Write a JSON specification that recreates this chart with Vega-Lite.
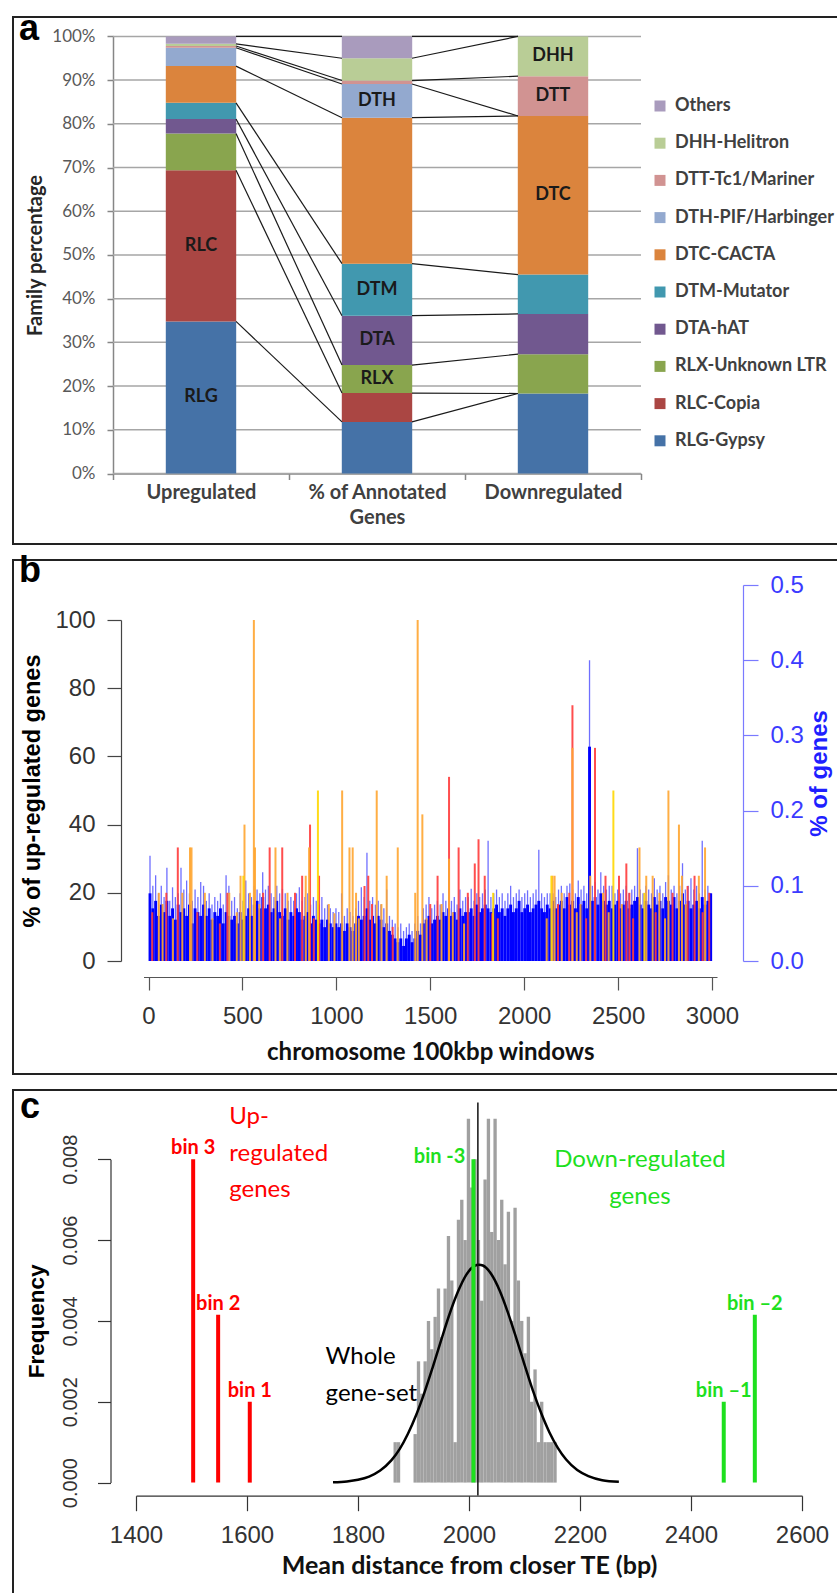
{
"$schema": "https://vega.github.io/schema/vega-lite/v6.json",
"padding": {"left": 12, "top": 10, "right": 0, "bottom": 0},
"background": "white",
"spacing": 16,
"bounds": "flush",
"resolve": {"scale": {"color": "independent"}, "legend": {"color": "independent"}},
"config": {
  "view": {"stroke": "#222222", "strokeWidth": 2},
  "axis": {"grid": false},
  "title": {"anchor": "start", "frame": "group", "font": "Liberation Sans", "fontSize": 36, "fontWeight": "bold", "color": "#000000", "baseline": "alphabetic"}
},
"datasets": {
  "famA": [
    {"group": "Upregulated", "family": "RLG-Gypsy", "abbr": "RLG", "k": 1, "pct": 34.8},
    {"group": "Upregulated", "family": "RLC-Copia", "abbr": "RLC", "k": 2, "pct": 34.6},
    {"group": "Upregulated", "family": "RLX-Unknown LTR", "abbr": "", "k": 3, "pct": 8.4},
    {"group": "Upregulated", "family": "DTA-hAT", "abbr": "", "k": 4, "pct": 3.3},
    {"group": "Upregulated", "family": "DTM-Mutator", "abbr": "", "k": 5, "pct": 3.7},
    {"group": "Upregulated", "family": "DTC-CACTA", "abbr": "", "k": 6, "pct": 8.4},
    {"group": "Upregulated", "family": "DTH-PIF/Harbinger", "abbr": "", "k": 7, "pct": 4.2},
    {"group": "Upregulated", "family": "DTT-Tc1/Mariner", "abbr": "", "k": 8, "pct": 0.4},
    {"group": "Upregulated", "family": "DHH-Helitron", "abbr": "", "k": 9, "pct": 0.5},
    {"group": "Upregulated", "family": "Others", "abbr": "", "k": 10, "pct": 1.7},
    {"group": "% of Annotated Genes", "family": "RLG-Gypsy", "abbr": "", "k": 1, "pct": 11.8},
    {"group": "% of Annotated Genes", "family": "RLC-Copia", "abbr": "", "k": 2, "pct": 6.6},
    {"group": "% of Annotated Genes", "family": "RLX-Unknown LTR", "abbr": "RLX", "k": 3, "pct": 6.4},
    {"group": "% of Annotated Genes", "family": "DTA-hAT", "abbr": "DTA", "k": 4, "pct": 11.3},
    {"group": "% of Annotated Genes", "family": "DTM-Mutator", "abbr": "DTM", "k": 5, "pct": 11.9},
    {"group": "% of Annotated Genes", "family": "DTC-CACTA", "abbr": "", "k": 6, "pct": 33.4},
    {"group": "% of Annotated Genes", "family": "DTH-PIF/Harbinger", "abbr": "DTH", "k": 7, "pct": 7.7},
    {"group": "% of Annotated Genes", "family": "DTT-Tc1/Mariner", "abbr": "", "k": 8, "pct": 0.8},
    {"group": "% of Annotated Genes", "family": "DHH-Helitron", "abbr": "", "k": 9, "pct": 5.1},
    {"group": "% of Annotated Genes", "family": "Others", "abbr": "", "k": 10, "pct": 5.0},
    {"group": "Downregulated", "family": "RLG-Gypsy", "abbr": "", "k": 1, "pct": 18.3},
    {"group": "Downregulated", "family": "RLC-Copia", "abbr": "", "k": 2, "pct": 0},
    {"group": "Downregulated", "family": "RLX-Unknown LTR", "abbr": "", "k": 3, "pct": 9.0},
    {"group": "Downregulated", "family": "DTA-hAT", "abbr": "", "k": 4, "pct": 9.2},
    {"group": "Downregulated", "family": "DTM-Mutator", "abbr": "", "k": 5, "pct": 9.0},
    {"group": "Downregulated", "family": "DTC-CACTA", "abbr": "DTC", "k": 6, "pct": 36.3},
    {"group": "Downregulated", "family": "DTH-PIF/Harbinger", "abbr": "", "k": 7, "pct": 0},
    {"group": "Downregulated", "family": "DTT-Tc1/Mariner", "abbr": "DTT", "k": 8, "pct": 9.1},
    {"group": "Downregulated", "family": "DHH-Helitron", "abbr": "DHH", "k": 9, "pct": 9.1},
    {"group": "Downregulated", "family": "Others", "abbr": "", "k": 10, "pct": 0}
  ],
  "gridA": [{"v": 0}, {"v": 10}, {"v": 20}, {"v": 30}, {"v": 40}, {"v": 50}, {"v": 60}, {"v": 70}, {"v": 80}, {"v": 90}, {"v": 100}],
  "blueB": [
    {"w":8,"lo":0.09,"hi":0.14},{"w":23,"lo":0.07,"hi":0.1},{"w":38,"lo":0.08,"hi":0.114},{"w":53,"lo":0.06,"hi":0.09},{"w":68,"lo":0.075,"hi":0.1},{"w":83,"lo":0.065,"hi":0.085},{"w":98,"lo":0.08,"hi":0.124},
    {"w":113,"lo":0.06,"hi":0.08},{"w":128,"lo":0.07,"hi":0.098},{"w":143,"lo":0.055,"hi":0.085},{"w":158,"lo":0.075,"hi":0.09},{"w":173,"lo":0.065,"hi":0.124},{"w":188,"lo":0.07,"hi":0.095},{"w":203,"lo":0.06,"hi":0.107},{"w":218,"lo":0.075,"hi":0.09},{"w":233,"lo":0.05,"hi":0.08},{"w":248,"lo":0.07,"hi":0.095},{"w":263,"lo":0.065,"hi":0.085},{"w":278,"lo":0.06,"hi":0.105},{"w":293,"lo":0.075,"hi":0.1},
    {"w":308,"lo":0.06,"hi":0.08},{"w":323,"lo":0.07,"hi":0.09},{"w":338,"lo":0.055,"hi":0.075},{"w":353,"lo":0.065,"hi":0.085},{"w":368,"lo":0.06,"hi":0.08},{"w":383,"lo":0.07,"hi":0.09},{"w":398,"lo":0.05,"hi":0.075},{"w":413,"lo":0.065,"hi":0.114},{"w":428,"lo":0.06,"hi":0.1},{"w":443,"lo":0.055,"hi":0.08},
    {"w":458,"lo":0.06,"hi":0.085},{"w":473,"lo":0.05,"hi":0.07},{"w":488,"lo":0.065,"hi":0.09},{"w":503,"lo":0.055,"hi":0.08},{"w":518,"lo":0.06,"hi":0.107},{"w":533,"lo":0.07,"hi":0.09},{"w":548,"lo":0.06,"hi":0.085},
    {"w":563,"lo":0.075,"hi":0.1},{"w":578,"lo":0.08,"hi":0.095},{"w":593,"lo":0.07,"hi":0.09},{"w":608,"lo":0.085,"hi":0.118},{"w":623,"lo":0.07,"hi":0.095},{"w":638,"lo":0.075,"hi":0.1},{"w":653,"lo":0.065,"hi":0.09},{"w":668,"lo":0.07,"hi":0.085},{"w":683,"lo":0.08,"hi":0.1},{"w":698,"lo":0.065,"hi":0.09},
    {"w":713,"lo":0.06,"hi":0.096},{"w":728,"lo":0.07,"hi":0.09},{"w":743,"lo":0.055,"hi":0.08},{"w":758,"lo":0.065,"hi":0.085},{"w":773,"lo":0.06,"hi":0.08},{"w":788,"lo":0.07,"hi":0.09},{"w":803,"lo":0.065,"hi":0.098},{"w":818,"lo":0.055,"hi":0.08},{"w":833,"lo":0.06,"hi":0.085},{"w":848,"lo":0.065,"hi":0.09},{"w":863,"lo":0.05,"hi":0.075},{"w":878,"lo":0.06,"hi":0.085},{"w":893,"lo":0.055,"hi":0.08},
    {"w":908,"lo":0.05,"hi":0.075},{"w":923,"lo":0.055,"hi":0.085},{"w":938,"lo":0.045,"hi":0.07},{"w":953,"lo":0.055,"hi":0.075},{"w":968,"lo":0.05,"hi":0.07},{"w":983,"lo":0.045,"hi":0.065},{"w":998,"lo":0.05,"hi":0.07},
    {"w":1013,"lo":0.045,"hi":0.065},{"w":1028,"lo":0.05,"hi":0.09},{"w":1043,"lo":0.04,"hi":0.06},{"w":1058,"lo":0.05,"hi":0.07},{"w":1073,"lo":0.045,"hi":0.065},{"w":1088,"lo":0.04,"hi":0.06},
    {"w":1103,"lo":0.05,"hi":0.07},{"w":1118,"lo":0.06,"hi":0.08},{"w":1133,"lo":0.055,"hi":0.098},{"w":1148,"lo":0.06,"hi":0.085},{"w":1163,"lo":0.07,"hi":0.144},{"w":1178,"lo":0.055,"hi":0.08},{"w":1193,"lo":0.06,"hi":0.085},{"w":1208,"lo":0.05,"hi":0.075},{"w":1223,"lo":0.06,"hi":0.08},{"w":1238,"lo":0.055,"hi":0.075},
    {"w":1253,"lo":0.045,"hi":0.07},{"w":1268,"lo":0.05,"hi":0.095},{"w":1283,"lo":0.04,"hi":0.06},{"w":1298,"lo":0.035,"hi":0.055},
    {"w":1313,"lo":0.03,"hi":0.05},{"w":1328,"lo":0.025,"hi":0.045},{"w":1343,"lo":0.03,"hi":0.05},{"w":1358,"lo":0.02,"hi":0.04},{"w":1373,"lo":0.03,"hi":0.045},{"w":1388,"lo":0.035,"hi":0.05},{"w":1403,"lo":0.025,"hi":0.04},{"w":1418,"lo":0.03,"hi":0.05},{"w":1433,"lo":0.04,"hi":0.06},{"w":1448,"lo":0.035,"hi":0.05},
    {"w":1463,"lo":0.05,"hi":0.07},{"w":1478,"lo":0.055,"hi":0.075},{"w":1493,"lo":0.06,"hi":0.085},{"w":1508,"lo":0.05,"hi":0.07},{"w":1523,"lo":0.055,"hi":0.075},{"w":1538,"lo":0.06,"hi":0.08},
    {"w":1553,"lo":0.055,"hi":0.075},{"w":1568,"lo":0.065,"hi":0.09},{"w":1583,"lo":0.06,"hi":0.08},{"w":1598,"lo":0.07,"hi":0.085},{"w":1613,"lo":0.06,"hi":0.08},{"w":1628,"lo":0.065,"hi":0.085},{"w":1643,"lo":0.055,"hi":0.075},{"w":1658,"lo":0.07,"hi":0.095},{"w":1673,"lo":0.06,"hi":0.08},{"w":1688,"lo":0.065,"hi":0.085},
    {"w":1703,"lo":0.065,"hi":0.085},{"w":1718,"lo":0.07,"hi":0.096},{"w":1733,"lo":0.06,"hi":0.08},{"w":1748,"lo":0.075,"hi":0.09},{"w":1763,"lo":0.065,"hi":0.085},{"w":1778,"lo":0.07,"hi":0.09},{"w":1793,"lo":0.075,"hi":0.095},{"w":1808,"lo":0.07,"hi":0.16},{"w":1823,"lo":0.065,"hi":0.085},{"w":1838,"lo":0.07,"hi":0.09},{"w":1853,"lo":0.075,"hi":0.095},{"w":1868,"lo":0.065,"hi":0.085},{"w":1883,"lo":0.07,"hi":0.09},{"w":1898,"lo":0.06,"hi":0.08},
    {"w":1913,"lo":0.07,"hi":0.09},{"w":1928,"lo":0.075,"hi":0.1},{"w":1943,"lo":0.065,"hi":0.085},{"w":1958,"lo":0.07,"hi":0.09},{"w":1973,"lo":0.08,"hi":0.095},{"w":1988,"lo":0.065,"hi":0.085},{"w":2003,"lo":0.07,"hi":0.09},{"w":2018,"lo":0.075,"hi":0.094},{"w":2033,"lo":0.065,"hi":0.085},{"w":2048,"lo":0.07,"hi":0.09},{"w":2063,"lo":0.075,"hi":0.095},{"w":2078,"lo":0.08,"hi":0.148},{"w":2093,"lo":0.07,"hi":0.09},
    {"w":2108,"lo":0.065,"hi":0.085},{"w":2123,"lo":0.075,"hi":0.09},{"w":2138,"lo":0.07,"hi":0.09},{"w":2153,"lo":0.08,"hi":0.09},{"w":2168,"lo":0.07,"hi":0.085},{"w":2183,"lo":0.075,"hi":0.095},{"w":2198,"lo":0.08,"hi":0.1},{"w":2213,"lo":0.07,"hi":0.09},{"w":2228,"lo":0.085,"hi":0.1},{"w":2243,"lo":0.075,"hi":0.103},{"w":2258,"lo":0.08,"hi":0.095},{"w":2273,"lo":0.07,"hi":0.09},{"w":2288,"lo":0.085,"hi":0.107},
    {"w":2303,"lo":0.075,"hi":0.095},{"w":2318,"lo":0.08,"hi":0.1},{"w":2333,"lo":0.07,"hi":0.09},{"w":2348,"lo":0.285,"hi":0.4},{"w":2363,"lo":0.08,"hi":0.1},{"w":2378,"lo":0.085,"hi":0.105},{"w":2393,"lo":0.075,"hi":0.095},{"w":2408,"lo":0.09,"hi":0.118},{"w":2423,"lo":0.08,"hi":0.1},{"w":2438,"lo":0.075,"hi":0.095},
    {"w":2453,"lo":0.08,"hi":0.1},{"w":2468,"lo":0.07,"hi":0.1},{"w":2483,"lo":0.075,"hi":0.09},{"w":2498,"lo":0.08,"hi":0.095},{"w":2513,"lo":0.07,"hi":0.09},{"w":2528,"lo":0.075,"hi":0.095},{"w":2543,"lo":0.08,"hi":0.1},{"w":2558,"lo":0.07,"hi":0.09},{"w":2573,"lo":0.075,"hi":0.095},{"w":2588,"lo":0.08,"hi":0.1},{"w":2603,"lo":0.085,"hi":0.15},{"w":2618,"lo":0.075,"hi":0.095},{"w":2633,"lo":0.07,"hi":0.09},{"w":2648,"lo":0.08,"hi":0.1},{"w":2663,"lo":0.075,"hi":0.095},{"w":2678,"lo":0.07,"hi":0.09},{"w":2693,"lo":0.085,"hi":0.11},
    {"w":2708,"lo":0.075,"hi":0.095},{"w":2723,"lo":0.08,"hi":0.1},{"w":2738,"lo":0.07,"hi":0.09},{"w":2753,"lo":0.085,"hi":0.105},{"w":2768,"lo":0.08,"hi":0.114},{"w":2783,"lo":0.075,"hi":0.095},{"w":2798,"lo":0.085,"hi":0.1},{"w":2813,"lo":0.07,"hi":0.09},{"w":2828,"lo":0.08,"hi":0.1},{"w":2843,"lo":0.09,"hi":0.13},
    {"w":2858,"lo":0.075,"hi":0.095},{"w":2873,"lo":0.08,"hi":0.1},{"w":2888,"lo":0.07,"hi":0.11},{"w":2903,"lo":0.075,"hi":0.095},{"w":2918,"lo":0.08,"hi":0.1},{"w":2933,"lo":0.07,"hi":0.09},{"w":2948,"lo":0.085,"hi":0.16},{"w":2963,"lo":0.075,"hi":0.095},{"w":2978,"lo":0.08,"hi":0.1},{"w":2993,"lo":0.09,"hi":0.09}
  ],
  "upB": [
    {"w":156,"pct":33.3,"bin":1},{"w":645,"pct":33.3,"bin":1},{"w":712,"pct":33.3,"bin":1},{"w":860,"pct":40,"bin":1},{"w":1651,"pct":33.3,"bin":1},{"w":1600,"pct":54,"bin":1},{"w":1757,"pct":35.7,"bin":1},{"w":1737,"pct":28.6,"bin":1},{"w":2257,"pct":75,"bin":1},{"w":2377,"pct":62.5,"bin":1},{"w":2544,"pct":28.6,"bin":1},{"w":818,"pct":25,"bin":1},{"w":908,"pct":25,"bin":1},{"w":1170,"pct":25,"bin":1},{"w":1539,"pct":25,"bin":1},{"w":2433,"pct":25,"bin":1},{"w":2505,"pct":25,"bin":1},{"w":2907,"pct":25,"bin":1},{"w":1790,"pct":25,"bin":1},{"w":95,"pct":20,"bin":1},{"w":420,"pct":20,"bin":1},{"w":610,"pct":20,"bin":1},{"w":780,"pct":20,"bin":1},{"w":1150,"pct":22,"bin":1},{"w":1190,"pct":16.7,"bin":1},{"w":1500,"pct":16.7,"bin":1},{"w":1700,"pct":20,"bin":1},{"w":1830,"pct":14,"bin":1},{"w":2240,"pct":20,"bin":1},{"w":2560,"pct":20,"bin":1},{"w":2790,"pct":20,"bin":1},{"w":2870,"pct":22,"bin":1},{"w":2985,"pct":20,"bin":1},{"w":20,"pct":14.3,"bin":1},{"w":260,"pct":14.3,"bin":1},{"w":380,"pct":11,"bin":1},{"w":880,"pct":12.5,"bin":1},{"w":1300,"pct":10,"bin":1},{"w":1860,"pct":12.5,"bin":1},{"w":2180,"pct":16.7,"bin":1},{"w":2330,"pct":12.5,"bin":1},{"w":2580,"pct":12.5,"bin":1},{"w":2700,"pct":14.3,"bin":1},{"w":2950,"pct":14.3,"bin":1},
    {"w":561,"pct":100,"bin":2},{"w":1433,"pct":100,"bin":2},{"w":2257,"pct":62.5,"bin":2},{"w":1600,"pct":30,"bin":2},{"w":1031,"pct":50,"bin":2},{"w":1215,"pct":50,"bin":2},{"w":2768,"pct":50,"bin":2},{"w":1458,"pct":43,"bin":2},{"w":511,"pct":40,"bin":2},{"w":2824,"pct":40,"bin":2},{"w":221,"pct":33.3,"bin":2},{"w":229,"pct":33.3,"bin":2},{"w":567,"pct":33.3,"bin":2},{"w":676,"pct":33.3,"bin":2},{"w":855,"pct":33.3,"bin":2},{"w":1070,"pct":33.3,"bin":2},{"w":1087,"pct":33.3,"bin":2},{"w":1327,"pct":33.3,"bin":2},{"w":2614,"pct":33.3,"bin":2},{"w":2963,"pct":33.3,"bin":2},{"w":837,"pct":25,"bin":2},{"w":1268,"pct":25,"bin":2},{"w":2151,"pct":25,"bin":2},{"w":2162,"pct":25,"bin":2},{"w":2684,"pct":25,"bin":2},{"w":2840,"pct":25,"bin":2},{"w":2352,"pct":25,"bin":2},{"w":1105,"pct":20,"bin":2},{"w":55,"pct":20,"bin":2},{"w":180,"pct":20,"bin":2},{"w":300,"pct":20,"bin":2},{"w":430,"pct":20,"bin":2},{"w":490,"pct":25,"bin":2},{"w":540,"pct":20,"bin":2},{"w":740,"pct":20,"bin":2},{"w":960,"pct":16.7,"bin":2},{"w":1240,"pct":16.7,"bin":2},{"w":1420,"pct":20,"bin":2},{"w":1560,"pct":16.7,"bin":2},{"w":2200,"pct":20,"bin":2},{"w":2300,"pct":16.7,"bin":2},{"w":2420,"pct":20,"bin":2},{"w":2650,"pct":25,"bin":2},{"w":2720,"pct":20,"bin":2},{"w":2930,"pct":25,"bin":2},{"w":75,"pct":16.7,"bin":2},{"w":130,"pct":12.5,"bin":2},{"w":340,"pct":12.5,"bin":2},{"w":470,"pct":14.3,"bin":2},{"w":590,"pct":16.7,"bin":2},{"w":700,"pct":12.5,"bin":2},{"w":990,"pct":14,"bin":2},{"w":1120,"pct":12.5,"bin":2},{"w":1480,"pct":12.5,"bin":2},{"w":1620,"pct":14.3,"bin":2},{"w":1680,"pct":11,"bin":2},{"w":2120,"pct":12.5,"bin":2},{"w":2280,"pct":14.3,"bin":2},{"w":2450,"pct":14.3,"bin":2},{"w":2520,"pct":16.7,"bin":2},{"w":2750,"pct":12.5,"bin":2},{"w":2860,"pct":16.7,"bin":2},
    {"w":902,"pct":50,"bin":3},{"w":2475,"pct":50,"bin":3},{"w":505,"pct":25,"bin":3},{"w":1835,"pct":20,"bin":3},{"w":2145,"pct":25,"bin":3},{"w":2640,"pct":20,"bin":3}
  ],
  "histC": [
    {"x0":1864,"x1":1870,"f":0.0010},{"x0":1870,"x1":1876,"f":0.0010},
    {"x0":1900,"x1":1906,"f":0.0012},{"x0":1906,"x1":1912,"f":0.0030},{"x0":1912,"x1":1918,"f":0.0022},{"x0":1918,"x1":1924,"f":0.0030},{"x0":1924,"x1":1930,"f":0.0040},{"x0":1930,"x1":1936,"f":0.0033},{"x0":1936,"x1":1942,"f":0.0041},{"x0":1942,"x1":1948,"f":0.0048},{"x0":1948,"x1":1954,"f":0.0036},{"x0":1954,"x1":1960,"f":0.0048},{"x0":1960,"x1":1966,"f":0.0061},{"x0":1966,"x1":1972,"f":0.0050},{"x0":1972,"x1":1978,"f":0.0010},{"x0":1978,"x1":1984,"f":0.0065},{"x0":1984,"x1":1990,"f":0.0070},{"x0":1990,"x1":1996,"f":0.0060},{"x0":1996,"x1":2002,"f":0.0090},{"x0":2002,"x1":2008,"f":0.0073},{"x0":2008,"x1":2014,"f":0.0080},{"x0":2014,"x1":2020,"f":0.0060},{"x0":2020,"x1":2026,"f":0.0045},{"x0":2026,"x1":2032,"f":0.0075},{"x0":2032,"x1":2038,"f":0.0090},{"x0":2038,"x1":2044,"f":0.0062},{"x0":2044,"x1":2050,"f":0.0090},{"x0":2050,"x1":2056,"f":0.0060},{"x0":2056,"x1":2062,"f":0.0070},{"x0":2062,"x1":2068,"f":0.0054},{"x0":2068,"x1":2074,"f":0.0067},{"x0":2074,"x1":2080,"f":0.0040},{"x0":2080,"x1":2086,"f":0.0068},{"x0":2086,"x1":2092,"f":0.0050},{"x0":2092,"x1":2098,"f":0.0040},{"x0":2098,"x1":2104,"f":0.0032},{"x0":2104,"x1":2110,"f":0.0041},{"x0":2110,"x1":2116,"f":0.0020},{"x0":2116,"x1":2122,"f":0.0028},{"x0":2122,"x1":2128,"f":0.0010},{"x0":2128,"x1":2134,"f":0.0020},{"x0":2134,"x1":2140,"f":0.0010},{"x0":2140,"x1":2146,"f":0.0010},{"x0":2146,"x1":2152,"f":0.0010},{"x0":2152,"x1":2158,"f":0.0010}
  ],
  "curveC": [
    {"d":1755,"f":0.00001},{"d":1780,"f":0.00003},{"d":1800,"f":0.00007},{"d":1820,"f":0.00015},{"d":1840,"f":0.0003},{"d":1860,"f":0.00055},{"d":1875,"f":0.00083},{"d":1890,"f":0.00121},{"d":1905,"f":0.00168},{"d":1920,"f":0.00224},{"d":1935,"f":0.00287},{"d":1950,"f":0.00353},{"d":1965,"f":0.00417},{"d":1980,"f":0.00472},{"d":1995,"f":0.00514},{"d":2010,"f":0.00536},{"d":2018,"f":0.00539},{"d":2025,"f":0.00537},{"d":2040,"f":0.00516},{"d":2055,"f":0.00476},{"d":2070,"f":0.00421},{"d":2085,"f":0.00358},{"d":2100,"f":0.00292},{"d":2115,"f":0.00228},{"d":2130,"f":0.00172},{"d":2145,"f":0.00124},{"d":2160,"f":0.00086},{"d":2175,"f":0.00057},{"d":2195,"f":0.00031},{"d":2215,"f":0.00016},{"d":2240,"f":0.00006},{"d":2270,"f":0.00002}
  ],
  "binsC": [
    {"label":"bin 3","dist":1503,"freq":0.008,"dir":"up"},
    {"label":"bin 2","dist":1548,"freq":0.00415,"dir":"up"},
    {"label":"bin 1","dist":1605,"freq":0.002,"dir":"up"},
    {"label":"bin -3","dist":2008,"freq":0.008,"dir":"down"},
    {"label":"bin –1","dist":2459,"freq":0.002,"dir":"down"},
    {"label":"bin –2","dist":2515,"freq":0.00415,"dir":"down"}
  ]
},
"vconcat": [
  {
    "width": 830, "height": 527,
    "view": {"stroke": "#222222", "strokeWidth": 2, "fill": "white"},
    "title": {"text": "a", "offset": -31, "dx": 6},
    "layer": [
      {
        "data": {"name": "gridA"},
        "mark": {"type": "rule", "color": "#a6a6a6", "strokeWidth": 1.5, "xOffset": -88, "x2Offset": 88},
        "encoding": {
          "x": {"datum": "Upregulated", "type": "nominal"},
          "x2": {"datum": "Downregulated"},
          "y": {"field": "v", "type": "quantitative", "title": "Family percentage"}
        }
      },
      {
        "data": {"name": "famA"},
        "mark": {"type": "bar", "width": {"band": 0.4}},
        "encoding": {
          "x": {"field": "group", "type": "nominal",
                "scale": {"domain": ["Upregulated", "% of Annotated Genes", "Downregulated"], "range": [100, 628], "paddingInner": 0, "paddingOuter": 0},
                "axis": {"orient": "bottom", "offset": -70.5, "title": null, "tickBand": "extent", "labelAngle": 0, "labelAlign": "center", "labelBaseline": "top",
                         "labelExpr": "datum.value == '% of Annotated Genes' ? ['% of Annotated', 'Genes'] : datum.value",
                         "labelFont": "Lato", "labelFontSize": 20, "labelFontWeight": "bold", "labelColor": "#404040", "labelLineHeight": 25,
                         "labelPadding": 3, "tickSize": 6, "tickColor": "#868686", "domainColor": "#868686", "domainWidth": 1.5, "tickWidth": 1.5}},
          "y": {"field": "pct", "type": "quantitative", "stack": "zero", "title": "Family percentage",
                "scale": {"domain": [0, 100], "range": [456.5, 19.4], "nice": false, "zero": false},
                "axis": {"orient": "left", "offset": -100, "values": [0, 10, 20, 30, 40, 50, 60, 70, 80, 90, 100],
                         "labelExpr": "datum.value + '%'", "labelFont": "Lato", "labelFontSize": 17, "labelColor": "#595959",
                         "labelPadding": 12, "tickSize": 6, "tickColor": "#868686", "domainColor": "#868686", "domainWidth": 1.5, "tickWidth": 1.5,
                         "titleFont": "Lato", "titleFontSize": 20, "titleFontWeight": "bold", "titleColor": "#262626", "titlePadding": 6}},
          "order": {"field": "k", "type": "quantitative"},
          "color": {"field": "family", "type": "nominal",
                    "scale": {"domain": ["Others", "DHH-Helitron", "DTT-Tc1/Mariner", "DTH-PIF/Harbinger", "DTC-CACTA", "DTM-Mutator", "DTA-hAT", "RLX-Unknown LTR", "RLC-Copia", "RLG-Gypsy"],
                              "range": ["#A99BBD", "#B9CD96", "#D19392", "#93A9CF", "#DB843D", "#4198AF", "#71588F", "#89A54E", "#AA4643", "#4572A7"]},
                    "legend": {"orient": "none", "legendX": 638, "legendY": 80, "title": null, "padding": 0,
                               "symbolType": "square", "symbolSize": 121, "symbolStrokeWidth": 0, "labelOffset": 6,
                               "labelFont": "Lato", "labelFontSize": 18, "labelFontWeight": "bold", "labelColor": "#404040",
                               "labelLimit": 300, "rowPadding": 19.2}}
        }
      },
      {
        "data": {"name": "famA"},
        "transform": [
          {"stack": "pct", "groupby": ["group"], "sort": [{"field": "k", "order": "ascending"}], "as": ["y0", "y1"]},
          {"pivot": "group", "value": "y1", "groupby": ["family"]}
        ],
        "mark": {"type": "rule", "color": "#1a1a1a", "strokeWidth": 1.2, "xOffset": 35, "x2Offset": -35},
        "encoding": {
          "x": {"datum": "Upregulated", "type": "nominal"},
          "x2": {"datum": "% of Annotated Genes"},
          "y": {"field": "Upregulated", "type": "quantitative", "title": "Family percentage"},
          "y2": {"field": "% of Annotated Genes"}
        }
      },
      {
        "data": {"name": "famA"},
        "transform": [
          {"stack": "pct", "groupby": ["group"], "sort": [{"field": "k", "order": "ascending"}], "as": ["y0", "y1"]},
          {"pivot": "group", "value": "y1", "groupby": ["family"]}
        ],
        "mark": {"type": "rule", "color": "#1a1a1a", "strokeWidth": 1.2, "xOffset": 35, "x2Offset": -35},
        "encoding": {
          "x": {"datum": "% of Annotated Genes", "type": "nominal"},
          "x2": {"datum": "Downregulated"},
          "y": {"field": "% of Annotated Genes", "type": "quantitative", "title": "Family percentage"},
          "y2": {"field": "Downregulated"}
        }
      },
      {
        "data": {"name": "famA"},
        "mark": {"type": "text", "font": "Lato", "fontWeight": "bold", "fontSize": 18, "color": "#1a1a1a", "baseline": "middle"},
        "encoding": {
          "x": {"field": "group", "type": "nominal"},
          "y": {"field": "pct", "type": "quantitative", "stack": "zero", "bandPosition": 0.5, "title": "Family percentage"},
          "order": {"field": "k", "type": "quantitative"},
          "text": {"field": "abbr"}
        }
      }
    ]
  },
  {
    "width": 830, "height": 514,
    "view": {"stroke": "#222222", "strokeWidth": 2, "fill": "white"},
    "title": {"text": "b", "offset": -30, "dx": 6},
    "encoding": {
      "x": {"field": "w", "type": "quantitative",
            "scale": {"domain": [0, 3000], "range": [130.5, 704], "nice": false, "zero": false},
            "axis": {"orient": "bottom", "offset": -97, "values": [0, 500, 1000, 1500, 2000, 2500, 3000], "format": "d", "title": "chromosome 100kbp windows",
                     "labelFont": "Liberation Sans", "labelFontSize": 24, "labelColor": "#333333", "labelPadding": 14, "labelFlush": false, "labelOverlap": false,
                     "tickSize": 13, "tickColor": "#555555", "domainColor": "#555555", "tickWidth": 1.2, "domainWidth": 1.2,
                     "titleFont": "Lato", "titleFontSize": 24, "titleFontWeight": "bold", "titleColor": "#111111", "titlePadding": 12}}
    },
    "layer": [
      {
        "layer": [
          {
            "data": {"values": [{}]},
            "mark": {"type": "rect", "color": "#f4f4f4"},
            "encoding": {
              "x": {"datum": -479, "type": "quantitative"},
              "x2": {"datum": 3481},
              "y": {"datum": -0.0918, "type": "quantitative", "title": "% of genes",
                    "scale": {"domain": [0, 0.5], "range": [401, 25], "nice": false, "zero": false},
                    "axis": {"orient": "right", "offset": -100, "values": [0, 0.1, 0.2, 0.3, 0.4, 0.5], "format": ".1f",
                             "labelFont": "Liberation Sans", "labelFontSize": 24, "labelColor": "#3b3bff", "labelPadding": 12,
                             "tickSize": 15, "tickColor": "#7a7aff", "domainColor": "#7a7aff", "tickWidth": 1.2, "domainWidth": 1.2,
                             "titleFont": "Liberation Sans", "titleFontSize": 24, "titleFontWeight": "bold", "titleColor": "#1f1fff",
                             "titleAngle": 270, "titleBaseline": "top", "titlePadding": 4}},
              "y2": {"datum": 0.524}
            }
          },
          {
            "data": {"name": "blueB"},
            "mark": {"type": "bar", "width": 1.3, "color": "#6f6fff"},
            "encoding": {"y": {"field": "hi", "type": "quantitative", "title": "% of genes"}}
          },
          {
            "data": {"name": "blueB"},
            "mark": {"type": "bar", "width": 2.9, "color": "#0000ff"},
            "encoding": {"y": {"field": "lo", "type": "quantitative", "title": "% of genes"}}
          }
        ]
      },
      {
        "layer": [
          {
            "data": {"name": "upB"},
            "mark": {"type": "rule", "strokeWidth": 2, "opacity": 0.9},
            "encoding": {
              "y": {"field": "pct", "type": "quantitative", "title": "% of up-regulated genes",
                    "scale": {"domain": [0, 100], "range": [401, 60], "nice": false, "zero": false},
                    "axis": {"orient": "left", "offset": -108, "values": [0, 20, 40, 60, 80, 100],
                             "labelFont": "Liberation Sans", "labelFontSize": 24, "labelColor": "#333333", "labelPadding": 12,
                             "tickSize": 14, "tickColor": "#444444", "domainColor": "#444444", "tickWidth": 1.2, "domainWidth": 1.2,
                             "titleFont": "Liberation Sans", "titleFontSize": 23.5, "titleFontWeight": "bold", "titleColor": "#000000", "titlePadding": 10}},
              "y2": {"datum": 0},
              "color": {"field": "bin", "type": "nominal", "scale": {"domain": [1, 2, 3], "range": ["#ff3b3b", "#ffa530", "#ffd700"]}, "legend": null}
            }
          },
          {
            "data": {"values": [{}]},
            "mark": {"type": "rule", "color": "#ffd000", "strokeWidth": 3},
            "encoding": {
              "x": {"datum": 0, "type": "quantitative"},
              "x2": {"datum": 3000},
              "y": {"datum": 0, "type": "quantitative", "title": "% of up-regulated genes"}
            }
          }
        ]
      }
    ],
    "resolve": {"scale": {"y": "independent"}, "axis": {"y": "independent"}}
  },
  {
    "width": 830, "height": 520,
    "view": {"stroke": "#222222", "strokeWidth": 2, "fill": "white"},
    "title": {"text": "c", "offset": -36, "dx": 7},
    "layer": [
      {
        "data": {"name": "histC"},
        "mark": {"type": "bar", "color": "#a0a0a0"},
        "encoding": {
          "x": {"field": "x0", "type": "quantitative", "title": "Mean distance from closer TE (bp)",
                "scale": {"domain": [1400, 2600], "range": [123, 789], "nice": false, "zero": false},
                "axis": {"orient": "bottom", "offset": -114.3, "values": [1400, 1600, 1800, 2000, 2200, 2400, 2600], "format": "d",
                         "labelFont": "Liberation Sans", "labelFontSize": 24, "labelColor": "#333333", "labelPadding": 13, "labelFlush": false, "labelOverlap": false,
                         "tickSize": 15, "tickColor": "#333333", "domainColor": "#333333", "tickWidth": 1.2, "domainWidth": 1.2,
                         "titleFont": "Lato", "titleFontSize": 25, "titleFontWeight": "bold", "titleColor": "#111111", "titlePadding": 6}},
          "x2": {"field": "x1"},
          "y": {"field": "f", "type": "quantitative", "title": "Frequency",
                "scale": {"domain": [0, 0.008], "range": [392.6, 69.2], "nice": false, "zero": false},
                "axis": {"orient": "left", "offset": -97.5, "values": [0, 0.002, 0.004, 0.006, 0.008], "format": ".3f",
                         "labelAngle": 270, "labelAlign": "center", "labelBaseline": "bottom",
                         "labelFont": "Liberation Sans", "labelFontSize": 20, "labelColor": "#333333", "labelPadding": 17,
                         "tickSize": 13, "tickColor": "#333333", "domainColor": "#333333", "tickWidth": 1.2, "domainWidth": 1.2,
                         "titleFont": "Liberation Sans", "titleFontSize": 22.5, "titleFontWeight": "bold", "titleColor": "#000000", "titlePadding": 12}},
          "y2": {"datum": 0}
        }
      },
      {
        "data": {"name": "curveC"},
        "mark": {"type": "line", "color": "#000000", "strokeWidth": 2.5, "interpolate": "monotone"},
        "encoding": {
          "x": {"field": "d", "type": "quantitative", "title": "Mean distance from closer TE (bp)"},
          "y": {"field": "f", "type": "quantitative", "title": "Frequency"}
        }
      },
      {
        "data": {"values": [{}]},
        "mark": {"type": "rule", "color": "#111111", "strokeWidth": 1.5},
        "encoding": {
          "x": {"datum": 2016, "type": "quantitative"},
          "y": {"datum": -0.00032, "type": "quantitative"},
          "y2": {"datum": 0.0094}
        }
      },
      {
        "data": {"name": "binsC"},
        "mark": {"type": "rule", "strokeWidth": 4},
        "encoding": {
          "x": {"field": "dist", "type": "quantitative", "title": "Mean distance from closer TE (bp)"},
          "y": {"field": "freq", "type": "quantitative", "title": "Frequency"},
          "y2": {"datum": 0},
          "color": {"field": "dir", "type": "nominal", "scale": {"domain": ["up", "down"], "range": ["#ff0000", "#1ee01e"]}, "legend": null}
        }
      },
      {
        "data": {"name": "binsC"},
        "transform": [{"filter": "datum.label != 'bin -3'"}],
        "mark": {"type": "text", "font": "Lato", "fontWeight": "bold", "fontSize": 20, "baseline": "bottom", "align": "center", "dy": -1},
        "encoding": {
          "x": {"field": "dist", "type": "quantitative", "title": "Mean distance from closer TE (bp)"},
          "y": {"field": "freq", "type": "quantitative", "title": "Frequency"},
          "text": {"field": "label"},
          "color": {"field": "dir", "type": "nominal", "legend": null}
        }
      },
      {
        "data": {"name": "binsC"},
        "transform": [{"filter": "datum.label == 'bin -3'"}],
        "mark": {"type": "text", "font": "Lato", "fontWeight": "bold", "fontSize": 20, "baseline": "bottom", "align": "right", "dx": -8, "dy": 8},
        "encoding": {
          "x": {"field": "dist", "type": "quantitative", "title": "Mean distance from closer TE (bp)"},
          "y": {"field": "freq", "type": "quantitative", "title": "Frequency"},
          "text": {"field": "label"},
          "color": {"field": "dir", "type": "nominal", "legend": null}
        }
      },
      {
        "data": {"values": [{}]},
        "mark": {"type": "text", "text": ["Up-", "regulated", "genes"], "font": "Lato", "fontSize": 24, "color": "#ff0000", "align": "left", "baseline": "top", "lineHeight": 36.5},
        "encoding": {"x": {"datum": 1568, "type": "quantitative"}, "y": {"datum": 0.00933, "type": "quantitative"}}
      },
      {
        "data": {"values": [{}]},
        "mark": {"type": "text", "text": ["Down-regulated", "genes"], "font": "Lato", "fontSize": 24, "color": "#1ee01e", "align": "center", "baseline": "top", "lineHeight": 37},
        "encoding": {"x": {"datum": 2308, "type": "quantitative"}, "y": {"datum": 0.00828, "type": "quantitative"}}
      },
      {
        "data": {"values": [{}]},
        "mark": {"type": "text", "text": ["Whole", "gene-set"], "font": "Lato", "fontSize": 24, "color": "#000000", "align": "left", "baseline": "top", "lineHeight": 37},
        "encoding": {"x": {"datum": 1741.6, "type": "quantitative"}, "y": {"datum": 0.0034, "type": "quantitative"}}
      }
    ]
  }
]
}
